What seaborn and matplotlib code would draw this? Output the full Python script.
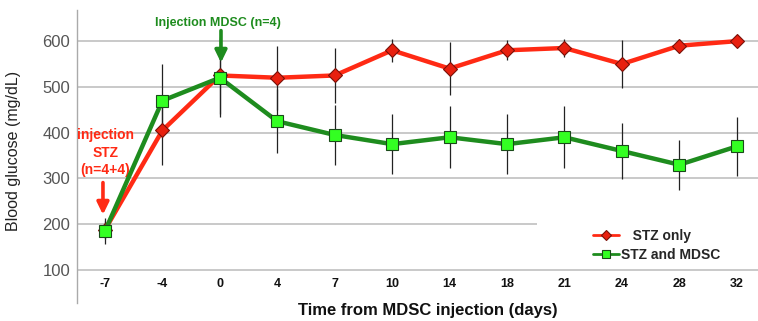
import matplotlib
matplotlib.use("Agg")
import matplotlib.pyplot as plt
from matplotlib.patches import Rectangle
import seaborn as sns
import numpy as np
import pandas as pd

days = ["-7", "-4", "0", "4", "7", "10", "14", "18", "21", "24", "28", "32"]
stz_only = [188, 405, 525, 520, 525, 580, 540, 580, 585, 550, 590, 600]
stz_only_err = [20, 75, 85, 70, 60, 25, 58, 22, 20, 52, 15, 8]
stz_mdsc = [185, 470, 520, 425, 395, 375, 390, 375, 390, 360, 330, 370]
stz_mdsc_err = [28, 80, 85, 70, 65, 65, 68, 65, 68, 62, 55, 65]
series_names = ["STZ only", "STZ and MDSC"]

sns.set_theme(style="white")
plt.rcParams['font.family'] = ['Liberation Sans', 'DejaVu Sans']

fig = plt.figure(figsize=(7.58, 3.21), dpi=100)
ax = fig.add_axes([77/758, 1-303/321, (758-77)/758, (303-10)/321])

idx = np.arange(len(days))
df = pd.DataFrame({
    "idx": np.concatenate([idx, idx]),
    "glucose": stz_only + stz_mdsc,
    "group": [series_names[0]]*len(days) + [series_names[1]]*len(days),
})

# error bars
ax.errorbar(idx, stz_only, yerr=stz_only_err, fmt="none", ecolor="#222222", elinewidth=0.9, capsize=0, zorder=2)
ax.errorbar(idx, stz_mdsc, yerr=stz_mdsc_err, fmt="none", ecolor="#222222", elinewidth=0.9, capsize=0, zorder=2)

red = "#ff2a14"
green = "#1e8c1e"
sns.lineplot(data=df[df.group == series_names[0]], x="idx", y="glucose", ax=ax,
             color=red, linewidth=3.2, marker="D", markersize=7,
             markerfacecolor="#e8200f", markeredgecolor="#7a1008", markeredgewidth=0.8,
             label=series_names[0], zorder=3)
sns.lineplot(data=df[df.group == series_names[1]], x="idx", y="glucose", ax=ax,
             color=green, linewidth=3.2, marker="s", markersize=9,
             markerfacecolor="#33ff22", markeredgecolor="#1a4a1a", markeredgewidth=0.8,
             label=series_names[1], zorder=4)

ax.set_xlim(-0.487, 11.37)
ax.set_ylim(28, 668)
ax.set_yticks([100, 200, 300, 400, 500, 600])
ax.set_xticks(idx)
ax.set_xticklabels(days, fontweight="bold", fontsize=9, color="#111111")
ax.tick_params(axis="y", length=0, labelsize=12, labelcolor="#555555", pad=5)
ax.tick_params(axis="x", length=0, pad=-18)
ax.grid(axis="y", color="#bbbbbb", linewidth=1.1)
ax.grid(axis="x", visible=False)
for s in ["top", "right", "bottom"]:
    ax.spines[s].set_visible(False)
ax.spines["left"].set_color("#aaaaaa")
ax.spines["left"].set_linewidth(1.0)
ax.set_xlabel("")
ax.set_ylabel("")

fig.text(428/758, 1-310/321, "Time from MDSC injection (days)", ha="center", va="center",
         fontsize=12, fontweight="bold", color="#111111")
fig.text(14/758, 1-151/321, "Blood glucose (mg/dL)", ha="center", va="center",
         rotation=90, fontsize=11.5, color="#222222")

# annotations
arrow_kw = dict(arrowstyle="-|>,head_width=0.22,head_length=0.45", lw=2.6,
                shrinkA=0, shrinkB=0, mutation_scale=16)
ax.annotate("", xy=(2.02, 553), xytext=(2.02, 623),
            arrowprops=dict(color=green, **arrow_kw))
ax.text(1.975, 639, "Injection MDSC (n=4)", ha="center", va="center", color=green,
        fontsize=9, fontweight="bold")
ax.annotate("", xy=(-0.035, 221), xytext=(-0.035, 291),
            arrowprops=dict(color=red, **arrow_kw))
for txt, yv in [("injection", 395), ("STZ", 356), ("(n=4+4)", 318)]:
    ax.text(0.01, yv, txt, ha="center", va="center", color=red,
            fontsize=10, fontweight="bold")

# white background behind legend (covers gridline like the original)
ax.add_patch(Rectangle(((537-77)/681, (303-262)/293), 1 - (537-77)/681, (262-216)/293,
                       transform=ax.transAxes, facecolor="white", edgecolor="none", zorder=1.5))

leg = ax.legend(loc="center left", bbox_to_anchor=((586-77)/681, (303-245.5)/293), frameon=False,
                fontsize=10, handlelength=1.9, handletextpad=0.1, borderpad=0.0,
                labelspacing=0.38)
for t in leg.get_texts():
    t.set_fontweight("bold")
leg.get_texts()[0].set_text("   " + series_names[0])
for h in leg.legend_handles:
    h.set_linewidth(2.0)
    h.set_markersize(5.5)
leg.set_zorder(5)

fig.savefig("out.png", dpi=100)
